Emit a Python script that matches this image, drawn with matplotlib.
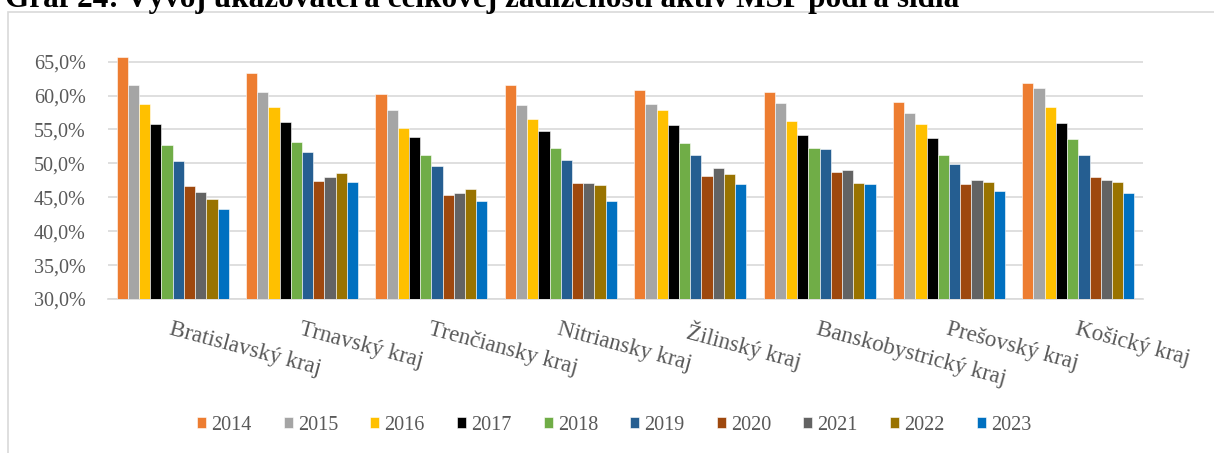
import matplotlib
matplotlib.use("Agg")
import matplotlib.pyplot as plt
import matplotlib.patches as patches
from matplotlib.ticker import FuncFormatter
import numpy as np

# data (% of total assets)
regions = ["Bratislavský kraj", "Trnavský kraj", "Trenčiansky kraj", "Nitriansky kraj",
           "Žilinský kraj", "Banskobystrický kraj", "Prešovský kraj", "Košický kraj"]
years = ["2014", "2015", "2016", "2017", "2018", "2019", "2020", "2021", "2022", "2023"]

y2014 = [65.7, 63.3, 60.2, 61.6, 60.8, 60.6, 59.1, 61.9]
y2015 = [61.6, 60.6, 57.9, 58.6, 58.7, 58.9, 57.4, 61.1]
y2016 = [58.8, 58.3, 55.2, 56.6, 57.8, 56.3, 55.8, 58.3]
y2017 = [55.8, 56.1, 53.9, 54.8, 55.6, 54.2, 53.7, 56.0]
y2018 = [52.7, 53.2, 51.2, 52.3, 53.0, 52.3, 51.2, 53.6]
y2019 = [50.3, 51.7, 49.6, 50.5, 51.3, 52.1, 49.9, 51.2]
y2020 = [46.6, 47.4, 45.3, 47.1, 48.1, 48.8, 46.9, 48.0]
y2021 = [45.8, 48.0, 45.7, 47.1, 49.3, 49.0, 47.6, 47.6]
y2022 = [44.7, 48.6, 46.2, 46.8, 48.5, 47.1, 47.2, 47.2]
y2023 = [43.3, 47.3, 44.5, 44.5, 46.9, 47.0, 45.9, 45.6]
series = [y2014, y2015, y2016, y2017, y2018, y2019, y2020, y2021, y2022, y2023]

colors = ["#ED7D31", "#A5A5A5", "#FFC000", "#000000", "#70AD47",
          "#255E91", "#9E480E", "#636363", "#997300", "#0070C0"]

plt.rcParams['font.family'] = ['Liberation Serif', 'DejaVu Serif']
text_col = "#595959"
grid_col = "#D9D9D9"

fig = plt.figure(figsize=(12.14, 4.53), dpi=100)
ax = fig.add_axes([108/1214, 1 - 299/453, (1143 - 108)/1214, (299 - 51.5)/453])

x = np.arange(len(regions))
w = 0.0866
for i, (vals, c, yr) in enumerate(zip(series, colors, years)):
    ax.bar(x + (i - 4.5) * w, vals, w, color=c, label=yr,
           edgecolor="white", linewidth=0.4, zorder=3)

ax.set_xlim(-0.5, len(regions) - 0.5)
ax.set_ylim(30, 66.5)
ax.set_yticks(np.arange(30, 66, 5))
ax.yaxis.set_major_formatter(FuncFormatter(lambda v, p: f"{v:.1f}%".replace(".", ",")))
ax.grid(axis="y", color=grid_col, linewidth=1.2, zorder=0)
for s in ["top", "right", "left"]:
    ax.spines[s].set_visible(False)
ax.spines["bottom"].set_color(grid_col)
ax.spines["bottom"].set_linewidth(1.2)
ax.tick_params(axis="y", length=0, pad=16, labelsize=14.5, labelcolor=text_col)
ax.tick_params(axis="x", length=0, pad=14, labelsize=16.5, labelcolor=text_col)
ax.set_xticks(x)
ax.set_xticklabels(regions, rotation=-15, ha="left", va="top", rotation_mode="anchor")

fig.legend(loc="center", bbox_to_anchor=(614/1214, 1 - 425/453), ncol=10, frameon=False,
           fontsize=14.5, labelcolor=text_col, handlelength=0.45, handleheight=0.45,
           handletextpad=0.25, columnspacing=1.6)

# chart frame and cut-off caption
fig.patches.append(patches.Rectangle((8/1214, -0.1), 1.2, 1.1 - 12/453, transform=fig.transFigure,
                                     fill=False, edgecolor=grid_col, linewidth=1.2))
fig.text(5/1214, 1 - 6.5/453, "Graf 24: Vývoj ukazovateľa celkovej zadlženosti aktív MSP podľa sídla",
         fontsize=22.5, fontweight="bold", va="baseline", ha="left")

fig.savefig("out.png", dpi=100)
